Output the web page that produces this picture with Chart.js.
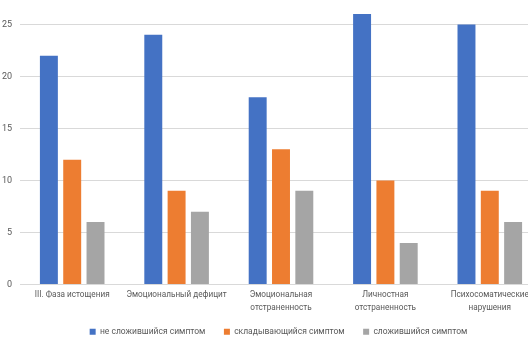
<!DOCTYPE html>
<html>
<head>
<meta charset="utf-8">
<script src="https://cdn.jsdelivr.net/npm/chart.js@4"></script>
<style>
    html, body { margin: 0; padding: 0; background: #fff; overflow: hidden; width: 528px; height: 342px; }
    #wrap { position: absolute; left: 0; top: -41px; width: 557px; height: 387px; }
</style>
</head>
<body>
<div id="wrap"><canvas id="myChart"></canvas></div>
<script>
var categories = [
    ['III. Фаза истощения'],
    ['Эмоциональный дефицит'],
    ['Эмоциональная', 'отстраненность'],
    ['Личностная', 'отстраненность'],
    ['Психосоматические', 'нарушения']
];
var seriesNames = ['не сложившийся симптом', 'складывающийся симптом', 'сложившийся симптом'];
var notFormed = [22, 24, 18, 26, 25];
var forming = [12, 9, 13, 10, 9];
var formed = [6, 7, 9, 4, 6];
var yTicks = [0, 5, 10, 15, 20, 25, 30];

var colors = ['#4472C4', '#ED7D31', '#A5A5A5'];
var textColor = '#595959';

var cdata = {
    labels: categories,
    datasets: [notFormed, forming, formed].map(function (d, i) {
        return {
            label: seriesNames[i],
            data: d,
            backgroundColor: colors[i],
            categoryPercentage: 0.67,
            barPercentage: 0.77
        };
    })
};

var config = {
    type: 'bar',
    data: cdata,
    options: {
        responsive: true,
        maintainAspectRatio: false,
        animation: false,
        layout: { padding: 0 },
        plugins: {
            tooltip: { enabled: false },
            legend: {
                position: 'bottom',
                labels: {
                    boxWidth: 6,
                    boxHeight: 6,
                    padding: 8,
                    color: textColor,
                    font: { family: 'Roboto', size: 8.5 },
                    // extra gap between items without growing legend height
                    generateLabels: function (chart) {
                        var items = Chart.defaults.plugins.legend.labels.generateLabels(chart);
                        items.forEach(function (it, i) {
                            if (i < items.length - 1) it.text = it.text + '     ';
                        });
                        return items;
                    }
                }
            }
        },
        scales: {
            x: {
                grid: { display: false, drawTicks: false },
                border: { color: '#d9d9d9' },
                afterFit: function (axis) { axis.height = 35; },
                ticks: {
                    color: textColor,
                    maxRotation: 0,
                    autoSkip: false,
                    padding: 4,
                    font: { family: 'Roboto', size: 8.2, lineHeight: 1.6 }
                }
            },
            y: {
                min: 0,
                max: yTicks[yTicks.length - 1],
                border: { display: false },
                grid: { color: '#d9d9d9', drawTicks: false },
                afterBuildTicks: function (axis) {
                    axis.ticks = yTicks.map(function (v) { return { value: v }; });
                },
                afterFit: function (axis) { axis.width = 20; },
                ticks: {
                    color: textColor,
                    padding: 8,
                    font: { family: 'Roboto', size: 9 }
                }
            },
            // empty right axis, only keeps room at the right edge
            yRight: {
                position: 'right',
                grid: { display: false },
                border: { display: false },
                ticks: { display: false },
                afterFit: function (axis) { axis.width = 15; }
            }
        }
    }
};

var myChart = new Chart(document.getElementById('myChart'), config);
</script>
</body>
</html>
